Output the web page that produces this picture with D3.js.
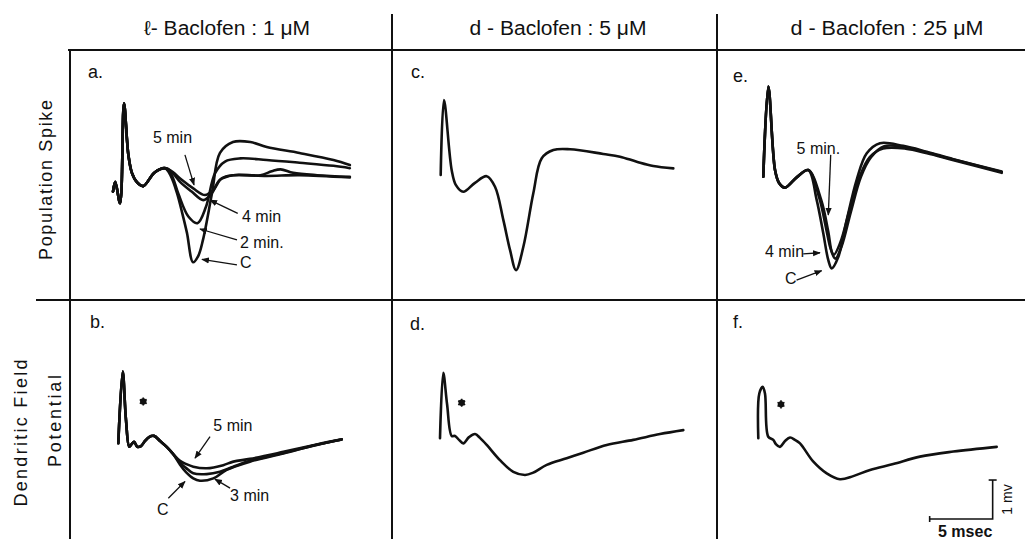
<!DOCTYPE html>
<html>
<head>
<meta charset="utf-8">
<script src="https://cdnjs.cloudflare.com/ajax/libs/d3/7.8.5/d3.min.js"></script>
<style>
  body { margin: 0; background: #fff; }
  svg text { font-family: "Liberation Sans", Arial, sans-serif; fill: #111; }
</style>
</head>
<body>
<div id="chart"></div>
<script>
// headings
var colTitles = ["\u2113- Baclofen : 1 \u03bcM", "d - Baclofen : 5 \u03bcM", "d - Baclofen : 25 \u03bcM"];
var rowTitles = [["Population Spike"], ["Dendritic Field", "Potential"]];

// traces, [msec after stimulus, mV from baseline]
var aOnset = [[0,-0.04],[0.18,0.21],[0.56,-0.34],[0.87,2.22],[1.22,0.9],[1.5,0.44],[1.9,0.2],[2.4,0.1],[3.3,0.45],[4.13,0.56]];
var aC = aOnset.concat([[4.6,0.35],[5.08,-0.08],[5.5,-0.6],[5.87,-1.1],[6.35,-1.85],[6.75,-1.7],[7.14,-1.28],[7.86,-0.08],[8.49,0.95],[9.52,1.23],[10.9,1.23],[12.2,1.1],[14.8,0.95],[17.5,0.77],[18.8,0.64]]);
var a2 = aOnset.concat([[4.6,0.42],[5.18,-0.09],[5.98,-0.68],[6.7,-0.85],[7.38,-0.43],[8.1,0.43],[8.89,0.73],[10.1,0.81],[12.2,0.77],[14.8,0.7],[17.5,0.62],[18.8,0.56]]);
var a4 = aOnset.concat([[4.7,0.45],[5.32,0.21],[6.24,-0.04],[7.17,-0.26],[7.83,-0.09],[8.49,0.26],[9.55,0.38],[11.7,0.38],[12.6,0.48],[13.3,0.53],[14.3,0.44],[16.2,0.38],[18.8,0.34]]);
var a5 = aOnset.concat([[4.7,0.47],[5.45,0.26],[6.37,0.04],[7.3,-0.13],[7.96,0],[8.63,0.3],[9.55,0.38],[12.2,0.36],[14.8,0.38],[18.8,0.32]]);

var cTrace = [[0,0],[0.26,1.92],[0.87,0.13],[1.21,-0.26],[1.79,-0.43],[2.72,-0.2],[3.65,-0.03],[4.31,-0.3],[4.97,-1.15],[5.5,-1.92],[5.98,-2.44],[6.56,-1.84],[7.35,-0.47],[8.02,0.43],[8.94,0.64],[10.26,0.66],[12.9,0.54],[14.23,0.47],[15.56,0.34],[16.87,0.23],[18.46,0.17]];

var eOnset = [[0,0],[0.4,2.31],[0.93,0.17],[1.25,-0.16],[1.72,-0.28],[2.67,-0.01],[3.57,0.17]];
var eC = eOnset.concat([[4.24,-0.6],[4.76,-1.45],[5.16,-2.14],[5.43,-2.35],[5.95,-2.06],[6.62,-1.11],[7.41,-0.08],[8.21,0.6],[9.26,0.86],[11.1,0.79],[12.97,0.64],[15.08,0.45],[18.92,0.13]]);
var e4 = eOnset.concat([[4.6,-0.6],[5.15,-1.4],[5.45,-1.95],[5.72,-2.1],[6.2,-1.8],[6.95,-0.9],[7.75,0],[8.55,0.5],[9.6,0.78],[11.2,0.76],[13.0,0.62],[15.1,0.44],[18.92,0.12]]);
var e5 = eOnset.concat([[4.45,-0.55],[5.0,-1.35],[5.35,-1.85],[5.6,-2.0],[6.1,-1.7],[6.85,-0.85],[7.65,0],[8.45,0.5],[9.5,0.72],[11.3,0.72],[13.0,0.6],[15.1,0.42],[18.92,0.1]]);

var bOnset = [[0,0],[0.35,1.84],[0.61,0.6],[0.87,-0.09],[1.06,-0.02],[1.25,0.04],[1.51,-0.09],[1.8,-0.07],[2.12,0.06],[2.44,0.16],[2.83,0.19],[3.31,0.06],[3.84,-0.09],[4.34,-0.27]];
var bC = bOnset.concat([[4.9,-0.55],[5.37,-0.74],[5.95,-0.9],[6.48,-0.96],[7.54,-0.9],[8.6,-0.68],[10.45,-0.47],[13.1,-0.26],[15.75,-0.04],[17.73,0.1]]);
var b3 = bOnset.concat([[4.9,-0.5],[5.37,-0.63],[5.95,-0.77],[7.02,-0.79],[8.07,-0.73],[9.13,-0.6],[10.45,-0.45],[13.1,-0.25],[15.75,-0.04],[17.73,0.1]]);
var b5 = bOnset.concat([[4.9,-0.45],[5.37,-0.53],[5.95,-0.6],[7.02,-0.64],[8.33,-0.56],[9.13,-0.47],[10.45,-0.4],[13.1,-0.22],[15.75,-0.03],[17.73,0.1]]);

var dTrace = [[0,0],[0.26,1.68],[0.56,0.88],[0.93,0.06],[1.19,0.06],[1.51,-0.04],[1.85,-0.13],[2.3,0.03],[2.78,0.11],[3.17,0.01],[3.71,-0.17],[4.76,-0.56],[5.82,-0.86],[6.75,-0.94],[7.4,-0.88],[8.47,-0.68],[10.05,-0.51],[11.37,-0.37],[13.23,-0.17],[15.34,-0.04],[17.46,0.11],[19.31,0.21]];

var fTrace = [[0,0],[0.08,1.15],[0.35,1.32],[0.53,1.15],[0.79,0.04],[1.19,-0.04],[1.4,-0.15],[1.72,-0.22],[2.12,-0.07],[2.52,0.02],[2.91,-0.04],[3.31,-0.13],[4.37,-0.6],[5.43,-0.9],[6.48,-1.05],[7.54,-0.97],[8.87,-0.81],[10.71,-0.66],[12.83,-0.47],[15.48,-0.34],[18.92,-0.22]];

// time labels with arrows (text start, arrow tail, arrow head) in msec / mV
var aNotes = [
  {text: "5 min",  at: [3.17, 1.21],  from: [5.71, 0.9],   to: [6.43, 0.13]},
  {text: "4 min",  at: [10.24, -0.81], from: [9.9, -0.6],  to: [7.7, -0.26]},
  {text: "2 min.", at: [10.08, -1.49], from: [9.84, -1.28], to: [6.9, -1.0]},
  {text: "C",      at: [10.08, -2.01], from: [9.84, -1.92], to: [7.06, -1.78]}
];
var bNotes = [
  {text: "5 min", at: [7.54, 0.32],  from: [7.28, 0.17],  to: [6.09, -0.38]},
  {text: "3 min", at: [8.87, -1.47], from: [8.87, -1.15], to: [7.67, -0.92]},
  {text: "C",     at: [3.07, -1.84], from: [3.97, -1.41], to: [5.29, -0.98]}
];
var eNotes = [
  {text: "5 min.", at: [2.64, 0.58],  from: [5.35, 0.56],  to: [5.16, -0.98]},
  {text: "4 min",  at: [0.13, -2.07], from: [3.17, -1.98], to: [4.5, -1.95]},
  {text: "C",      at: [1.72, -2.75], from: [2.64, -2.65], to: [4.63, -2.41]}
];

// stimulus artefact markers (*)
var bStar = [1.98, 1.07], dStar = [1.72, 0.91], fStar = [1.8, 0.87];

// calibration: 5 msec, 1 mV
var calMs = 5, calMv = 1, calAt = [13.6, -2.07];

var W = 1025, H = 539;
var pxPerMs = 12.6, pxPerMv = 39;

var svg = d3.select("#chart").append("svg")
    .attr("width", W)
    .attr("height", H);

svg.append("defs").append("marker")
    .attr("id", "arr")
    .attr("viewBox", "0 0 10 10")
    .attr("refX", 9).attr("refY", 5)
    .attr("markerWidth", 6).attr("markerHeight", 6)
    .attr("orient", "auto")
  .append("path")
    .attr("d", "M0,1L10,5L0,9Z")
    .attr("fill", "#111");

// frame
var frame = svg.append("g").attr("stroke", "#111").attr("stroke-width", 2);
frame.append("line").attr("x1", 68).attr("x2", W).attr("y1", 50).attr("y2", 50);
frame.append("line").attr("x1", 36).attr("x2", W).attr("y1", 300).attr("y2", 300);
frame.append("line").attr("x1", 70).attr("x2", 70).attr("y1", 49).attr("y2", H);
frame.append("line").attr("x1", 392).attr("x2", 392).attr("y1", 14).attr("y2", H);
frame.append("line").attr("x1", 717).attr("x2", 717).attr("y1", 14).attr("y2", H);

var titleX = [227, 558, 887], titleLen = [166, 177, 193];
colTitles.forEach(function(t, i) {
  svg.append("text")
      .attr("x", titleX[i]).attr("y", 35)
      .attr("text-anchor", "middle")
      .attr("textLength", titleLen[i])
      .attr("lengthAdjust", "spacingAndGlyphs")
      .style("font-size", "20px")
      .text(t);
});

var rowLabelPos = [[[52, 180]], [[27, 433], [61, 421]]];
var rowLabelLen = [[160], [147, 92]];
rowTitles.forEach(function(lines, r) {
  lines.forEach(function(t, k) {
    var p = rowLabelPos[r][k];
    svg.append("text")
        .attr("transform", "translate(" + p[0] + "," + p[1] + ") rotate(-90)")
        .attr("text-anchor", "middle")
        .attr("textLength", rowLabelLen[r][k])
        .attr("lengthAdjust", "spacing")
        .style("font-size", "18px")
        .text(t);
  });
});

var panels = [
  {letter: "a.", lx: 88,  ly: 78,  ox: 113,   oy: 190,   traces: [aC, a2, a4, a5], notes: aNotes, star: null},
  {letter: "c.", lx: 411, ly: 78,  ox: 440.7, oy: 175,   traces: [cTrace],         notes: [],     star: null},
  {letter: "e.", lx: 733, ly: 82,  ox: 763.3, oy: 176.7, traces: [eC, e4, e5],     notes: eNotes, star: null},
  {letter: "b.", lx: 90,  ly: 328, ox: 118.3, oy: 443.3, traces: [bC, b3, b5],     notes: bNotes, star: bStar},
  {letter: "d.", lx: 410, ly: 330, ox: 440,   oy: 438.3, traces: [dTrace],         notes: [],     star: dStar},
  {letter: "f.", lx: 733, ly: 328, ox: 758.3, oy: 438.3, traces: [fTrace],         notes: [],     star: fStar}
];

panels.forEach(function(p, i) {
  var g = svg.append("g");
  var x = d3.scaleLinear().domain([0, 20]).range([p.ox, p.ox + 20 * pxPerMs]);
  var y = d3.scaleLinear().domain([-3, 3]).range([p.oy + 3 * pxPerMv, p.oy - 3 * pxPerMv]);
  var line = d3.line()
      .x(function(d) { return x(d[0]); })
      .y(function(d) { return y(d[1]); })
      .curve(d3.curveCatmullRom.alpha(0.5));

  g.append("text")
      .attr("x", p.lx).attr("y", p.ly)
      .style("font-size", "18px")
      .text(p.letter);

  g.selectAll("path.trace")
    .data(p.traces)
    .enter().append("path")
      .attr("class", "trace")
      .attr("d", line)
      .attr("fill", "none")
      .attr("stroke", "#111")
      .attr("stroke-width", 2.6)
      .attr("stroke-linejoin", "round")
      .attr("stroke-linecap", "round");

  p.notes.forEach(function(n) {
    g.append("line")
        .attr("x1", x(n.from[0])).attr("y1", y(n.from[1]))
        .attr("x2", x(n.to[0])).attr("y2", y(n.to[1]))
        .attr("stroke", "#111")
        .attr("stroke-width", 1.3)
        .attr("marker-end", "url(#arr)");
    g.append("text")
        .attr("x", x(n.at[0])).attr("y", y(n.at[1]))
        .style("font-size", "16px")
        .text(n.text);
  });

  if (p.star) {
    var sx = x(p.star[0]), sy = y(p.star[1]);
    g.append("circle").attr("cx", sx).attr("cy", sy).attr("r", 3.2).attr("fill", "#111");
    g.append("path")
        .attr("transform", "translate(" + sx + "," + sy + ")")
        .attr("d", d3.symbol().type(d3.symbolAsterisk).size(45))
        .attr("fill", "none")
        .attr("stroke", "#111")
        .attr("stroke-width", 1.6);
  }

  // calibration bars in the last panel
  if (i === panels.length - 1) {
    var cx0 = x(calAt[0]), cx1 = x(calAt[0] + calMs);
    var cy0 = y(calAt[1]), cy1 = y(calAt[1] + calMv);
    var cal = g.append("g").attr("stroke", "#111").attr("stroke-width", 1.6).attr("fill", "none");
    cal.append("path").attr("d", "M" + cx0 + "," + cy0 + "H" + cx1 + "V" + cy1);
    cal.append("line").attr("x1", cx0).attr("x2", cx0).attr("y1", cy0 - 3).attr("y2", cy0 + 3);
    cal.append("line").attr("x1", cx1 - 4).attr("x2", cx1 + 4).attr("y1", cy1).attr("y2", cy1);
    g.append("text")
        .attr("x", (cx0 + cx1) / 2 + 4).attr("y", cy0 + 18)
        .attr("text-anchor", "middle")
        .style("font-size", "16px")
        .style("font-weight", "bold")
        .text(calMs + " msec");
    g.append("text")
        .attr("transform", "translate(" + (cx1 + 19) + "," + ((cy0 + cy1) / 2) + ") rotate(-90)")
        .attr("text-anchor", "middle")
        .style("font-size", "14px")
        .text(calMv + " mv");
  }
});
</script>
</body>
</html>
